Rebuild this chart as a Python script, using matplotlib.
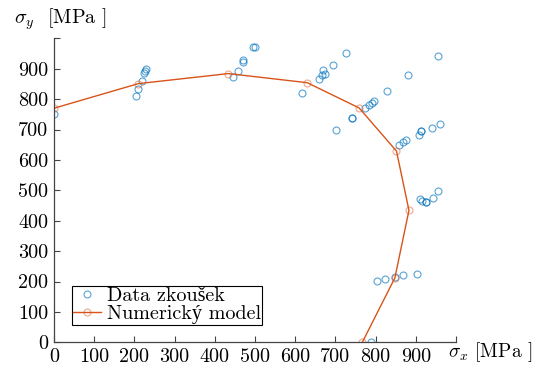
import matplotlib
matplotlib.use("Agg")
import matplotlib.pyplot as plt

# measured test points [MPa]
data_sx = [0, 205, 210, 218, 224, 227, 229,
           446, 458, 471, 471, 495, 500,
           618, 660, 666, 670, 673, 694, 726, 702, 742, 742,
           774, 784, 790, 797, 829, 881, 956,
           859, 869, 876, 908, 913, 914, 940, 959,
           910, 916, 925, 925, 944, 956,
           804, 823, 848, 867, 903, 788]
data_sy = [752, 811, 832, 858, 887, 893, 898,
           873, 891, 921, 928, 972, 972,
           819, 865, 878, 895, 884, 911, 951, 697, 739, 739,
           771, 782, 787, 794, 827, 880, 943,
           650, 659, 665, 682, 695, 694, 704, 719,
           470, 465, 460, 460, 474, 499,
           201, 207, 216, 221, 224, 0]

# numerical yield envelope [MPa]
model_sx = [0, 210, 434, 630, 759, 852, 883, 848, 767]
model_sy = [770, 851, 884, 854, 771, 629, 434, 212, 0]

xticks = [0, 100, 200, 300, 400, 500, 600, 700, 800, 900, 1000]
yticks = [0, 100, 200, 300, 400, 500, 600, 700, 800, 900, 1000]

plt.rcParams["font.family"] = ["cmr10", "Liberation Serif"]
plt.rcParams["mathtext.fontset"] = "cm"
plt.rcParams["axes.formatter.use_mathtext"] = True
fs = 14.5

blue = "#0072BD"
orange = "#D95319"

fig = plt.figure(figsize=(5.42, 3.65), dpi=100)
ax = fig.add_axes([0.0996, 0.0622, 0.7417, 0.8328])

ax.plot(data_sx, data_sy, linestyle="none", marker="o", markersize=5,
        markerfacecolor="none", markeredgecolor=blue, markeredgewidth=0.8,
        alpha=0.65, label="Data zkoušek")
ax.plot(model_sx, model_sy, color=orange, linewidth=1.0, marker="o",
        markersize=5, markerfacecolor="none",
        markeredgecolor=(0.85, 0.33, 0.1, 0.5), markeredgewidth=0.8,
        label="Numerický model")

ax.set_xlim(0, 1000)
ax.set_ylim(0, 1000)
ax.set_xticks(xticks)
ax.set_yticks(yticks)
ax.set_xticklabels([str(t) for t in xticks[:-1]] + [""])
ax.set_yticklabels([str(t) for t in yticks[:-1]] + [""])

for side in ("top", "right"):
    ax.spines[side].set_visible(False)
for side in ("left", "bottom"):
    ax.spines[side].set_color("#444444")
    ax.spines[side].set_linewidth(0.9)
ax.tick_params(direction="in", length=4, width=0.8, color="#444444",
               pad=4, labelsize=fs)

fig.text(0.026, 0.948, r"$\sigma_y$  [MPa ]", fontsize=fs, ha="left", va="center")
fig.text(0.826, 0.036, r"$\sigma_x$ [MPa ]", fontsize=14, ha="left", va="center")

leg = ax.legend(loc="lower left", bbox_to_anchor=(0.045, 0.057), frameon=True,
                fancybox=False, edgecolor="black", framealpha=1,
                borderpad=0.05, labelspacing=0.0, handlelength=1.4,
                handletextpad=0.3, borderaxespad=0, numpoints=1, fontsize=fs)
leg.get_frame().set_linewidth(0.8)

fig.savefig("out.png", dpi=100)
